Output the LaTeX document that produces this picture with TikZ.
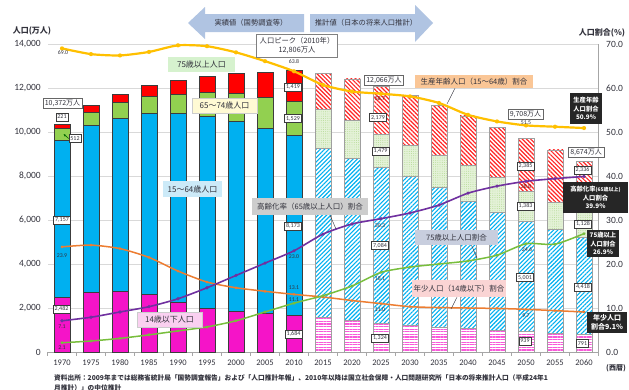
\documentclass[tikz,border=0pt]{standalone}
\usepackage{fontspec}
\setmainfont{Carlito}
\newfontfamily\jp{Noto Sans CJK JP}
\usetikzlibrary{patterns,patterns.meta,arrows.meta}

% series colours
\definecolor{txt}{RGB}{50,50,60}
\definecolor{gridc}{RGB}{217,217,217}
\definecolor{axisc}{RGB}{166,166,166}
\definecolor{barline}{RGB}{60,60,60}
\definecolor{cKid}{RGB}{245,20,200}
\definecolor{cWork}{RGB}{0,176,240}
\definecolor{cYoung}{RGB}{146,208,80}
\definecolor{cOld}{RGB}{255,0,0}
\definecolor{cYoungBg}{RGB}{228,242,216}
\definecolor{cYoungDot}{RGB}{175,215,140}
\definecolor{lGold}{RGB}{255,192,0}
\definecolor{lPurple}{RGB}{112,48,160}
\definecolor{lGreen}{RGB}{120,190,60}
\definecolor{lOrange}{RGB}{237,125,49}
\definecolor{hdr}{RGB}{176,196,226}
\definecolor{darkbg}{RGB}{38,38,38}
\definecolor{bgGreen}{RGB}{214,242,206}
\definecolor{bgYellow}{RGB}{255,250,212}
\definecolor{bgBlue}{RGB}{204,234,248}
\definecolor{bgGray}{RGB}{205,205,205}
\definecolor{bgSlate}{RGB}{200,206,222}
\definecolor{bgOrange}{RGB}{250,198,150}
\definecolor{bgPink}{RGB}{250,212,212}
\definecolor{bgLilac}{RGB}{250,208,240}

\tikzset{
  grid/.style={draw=gridc, line width=0.6pt},
  axisln/.style={draw=axisc, line width=0.6pt},
  bar/.style={draw=barline, line width=0.5pt},
  pbar/.style={draw=gray!75, line width=0.4pt},
  kidA/.style={bar, fill=cKid},
  workA/.style={bar, fill=cWork},
  youngA/.style={bar, fill=cYoung},
  oldA/.style={bar, fill=cOld},
  kidP/.style={pbar, preaction={fill=white}, pattern={Lines[angle=0,distance=2.6pt,line width=1.2pt]}, pattern color=cKid!70},
  workP/.style={pbar, preaction={fill=white}, pattern={Lines[angle=45,distance=3pt,line width=1.1pt]}, pattern color=cWork},
  youngP/.style={pbar, preaction={fill=cYoungBg}, pattern={Dots[distance=2.2pt,radius=0.45pt]}, pattern color=cYoungDot},
  oldP/.style={pbar, preaction={fill=white}, pattern={Lines[angle=-45,distance=3pt,line width=1.2pt]}, pattern color=cOld!85},
  ltick/.style={anchor=east, font=\fontsize{9.5}{10}\selectfont, text=txt, inner sep=0pt},
  rtick/.style={anchor=west, font=\fontsize{9.5}{10}\selectfont, text=txt, inner sep=0pt},
  yearlbl/.style={font=\fontsize{8.5}{9}\selectfont, text=txt, inner sep=0pt},
  valbox/.style={draw=barline, fill=white, line width=0.6pt, text=txt, font=\fontsize{6}{7}\selectfont, inner xsep=1.5pt, inner ysep=0pt, minimum height=8pt},
  totbox/.style={draw=gray!80!black, fill=white, line width=0.5pt, text=txt, font=\jp\fontsize{7}{8}\selectfont, inner xsep=2pt, inner ysep=0pt, minimum height=10pt},
  ptlbl/.style={text=txt, font=\fontsize{5.8}{6}\selectfont, inner sep=0pt},
  lgd/.style={text=txt, font=\jp\fontsize{7.5}{9}\selectfont, inner sep=0pt, align=center},
  darkbox/.style={fill=darkbg, text=white, font=\jp\bfseries\fontsize{6.3}{8.6}\selectfont, inner sep=0pt, align=center},
  leader/.style={draw=txt, line width=0.4pt},
  sline/.style={line width=1.6pt, line join=round, smooth, tension=0.4},
  hdrshape/.style={fill=hdr},
}

\begin{document}
\begin{tikzpicture}[x=1pt,y=-1pt]
\useasboundingbox (0,0) rectangle (629,389);
\fill[white] (0,0) rectangle (629,389);

% header arrows
\path[hdrshape] (188,23) -- (205,7) -- (205,14) -- (304,14) -- (304,32) -- (205,32) -- (205,39) -- cycle;
\path[hdrshape] (310,14) -- (415,14) -- (415,5) -- (433,23) -- (415,42) -- (415,32) -- (310,32) -- cycle;
\node[lgd, font=\jp\fontsize{7.3}{9}\selectfont] (hdrL) at (251,23) {実績値（国勢調査等）};
\node[lgd, font=\jp\fontsize{7.3}{9}\selectfont] (hdrR) at (366,23) {推計値（日本の将来人口推計）};

% axis titles
\node[lgd, font=\jp\bfseries\fontsize{8}{9}\selectfont] (ytitleL) at (32,31) {人口(万人)};
\node[lgd, font=\jp\bfseries\fontsize{8}{9}\selectfont] (ytitleR) at (602,33) {人口割合(\%)};

% gridlines and axes
\foreach \v in {1,...,7} \draw[grid] (48,{352-44*\v}) -- (598.5,{352-44*\v});
\draw[axisln] (598.5,44) -- (598.5,352);
\draw[axisln] (47.5,352) -- (598.5,352);
\foreach \k in {0,...,19} \draw[axisln] ({47.5+29*\k},352) -- ++(0,4);

% left tick labels
\foreach \v/\t in {0/0,1/{2,000},2/{4,000},3/{6,000},4/{8,000},5/{10,000},6/{12,000},7/{14,000}}
  \node[ltick] (yl\v) at (41,{352-44*\v}) {\t};
% right tick labels
\foreach \v/\t in {0/0.0,1/10.0,2/20.0,3/30.0,4/40.0,5/50.0,6/60.0,7/70.0}
  \node[rtick] (yr\v) at (606,{352-44*\v}) {\t};

% year labels
\foreach \i/\yr in {0/1970,1/1975,2/1980,3/1985,4/1990,5/1995,6/2000,7/2005,8/2010,9/2015,10/2020,11/2025,12/2030,13/2035,14/2040,15/2045,16/2050,17/2055,18/2060}
  \node[yearlbl] (yr\yr) at ({62+29*\i},363) {\yr};
\node[lgd, font=\jp\bfseries\fontsize{7}{8}\selectfont] (era) at (616,368) {(西暦)};

% stacked bars, census years
\foreach \i/\a/\b/\c/\d in {0/2482/7157/512/221,1/2722/7584/603/284,2/2751/7883/699/366,3/2603/8251/776/471,4/2249/8590/892/597,5/2001/8716/1109/717,6/1847/8622/1301/900,7/1752/8409/1407/1164,8/1684/8173/1529/1419}{
  \pgfmathsetmacro\xl{54+29*\i}
  \pgfmathsetmacro\xr{70+29*\i}
  \pgfmathsetmacro\ya{352-0.022*\a}
  \pgfmathsetmacro\yb{\ya-0.022*\b}
  \pgfmathsetmacro\yc{\yb-0.022*\c}
  \pgfmathsetmacro\yd{\yc-0.022*\d}
  \draw[kidA] (\xl,352) rectangle (\xr,\ya);
  \draw[workA] (\xl,\ya) rectangle (\xr,\yb);
  \draw[youngA] (\xl,\yb) rectangle (\xr,\yc);
  \draw[oldA] (\xl,\yc) rectangle (\xr,\yd);
}
% stacked bars, projected years
\foreach \i/\a/\b/\c/\d in {9/1583/7682/1749/1646,10/1457/7341/1733/1879,11/1324/7084/1479/2179,12/1204/6773/1407/2278,13/1129/6343/1495/2245,14/1073/5787/1645/2223,15/1012/5353/1600/2257,16/939/5001/1383/2385,17/861/4706/1225/2401,18/791/4418/1128/2336}{
  \pgfmathsetmacro\xl{54+29*\i}
  \pgfmathsetmacro\xr{70+29*\i}
  \pgfmathsetmacro\ya{352-0.022*\a}
  \pgfmathsetmacro\yb{\ya-0.022*\b}
  \pgfmathsetmacro\yc{\yb-0.022*\c}
  \pgfmathsetmacro\yd{\yc-0.022*\d}
  \draw[kidP] (\xl,352) rectangle (\xr,\ya);
  \draw[workP] (\xl,\ya) rectangle (\xr,\yb);
  \draw[youngP] (\xl,\yb) rectangle (\xr,\yc);
  \draw[oldP] (\xl,\yc) rectangle (\xr,\yd);
}

% ratio series: working-age, aged 65+, aged 75+, under 15
\foreach \i/\p in {0/69.0,1/67.7,2/67.4,3/68.2,4/69.7,5/69.5,6/68.1,7/66.1,8/63.8,9/60.7,10/59.2,11/58.7,12/58.1,13/56.6,14/53.9,15/52.4,16/51.5,17/51.2,18/50.9}
  \coordinate (w\i) at ({62+29*\i},{352-4.4*\p});
\foreach \i/\p in {0/7.1,1/7.9,2/9.1,3/10.3,4/12.1,5/14.6,6/17.4,7/20.2,8/23.0,9/26.8,10/29.1,11/30.3,12/31.6,13/33.4,14/36.1,15/37.7,16/38.8,17/39.4,18/39.9}
  \coordinate (a\i) at ({62+29*\i},{352-4.4*\p});
\foreach \i/\p in {0/2.1,1/2.5,2/3.1,3/3.9,4/4.8,5/5.7,6/7.1,7/9.1,8/11.1,9/12.8,10/15.0,11/18.1,12/19.3,13/20.0,14/20.7,15/22.0,16/24.6,17/24.5,18/26.9}
  \coordinate (s\i) at ({62+29*\i},{352-4.4*\p});
\foreach \i/\p in {0/23.9,1/24.3,2/23.5,3/21.5,4/18.4,5/15.9,6/14.6,7/13.8,8/13.1,9/12.5,10/11.7,11/11.0,12/10.3,13/10.1,14/10.0,15/9.9,16/9.7,17/9.4,18/9.1}
  \coordinate (k\i) at ({62+29*\i},{352-4.4*\p});

\draw[sline, lOrange, line width=1.5pt] plot coordinates {(k0) (k1) (k2) (k3) (k4) (k5) (k6) (k7) (k8) (k9) (k10) (k11) (k12) (k13) (k14) (k15) (k16) (k17) (k18)};
\draw[sline, lGreen, line width=1.5pt] plot coordinates {(s0) (s1) (s2) (s3) (s4) (s5) (s6) (s7) (s8) (s9) (s10) (s11) (s12) (s13) (s14) (s15) (s16) (s17) (s18)};
\draw[sline, lPurple, line width=1.6pt] plot coordinates {(a0) (a1) (a2) (a3) (a4) (a5) (a6) (a7) (a8) (a9) (a10) (a11) (a12) (a13) (a14) (a15) (a16) (a17) (a18)};
\draw[sline, lGold, line width=2.2pt] plot coordinates {(w0) (w1) (w2) (w3) (w4) (w5) (w6) (w7) (w8) (w9) (w10) (w11) (w12) (w13) (w14) (w15) (w16) (w17) (w18)};
\foreach \i in {0,...,18}{
  \fill[lOrange] (k\i) circle (1.5);
  \fill[lGreen] (s\i) circle (1.6);
  \fill[lPurple] (a\i) circle (1.8);
  \fill[lGold] (w\i) circle (2.1);
}

% value labels in the bars
\node[totbox] (tot1970) at (62.5,103) {10,372万人};
\node[valbox] (v221) at (62,117) {221};
\node[valbox] (v512) at (75,138.5) {512};
\coordinate (g1970) at (63.5,134);
\draw[-{Stealth[length=3pt]}, draw=green!40!black, line width=0.6pt] (v512.west) -- (g1970);
\node[valbox] (v7157) at (62,220) {7,157};
\node[valbox] (v2482) at (61.5,309) {2,482};
\node[valbox] (v1419) at (293,87) {1,419};
\node[valbox] (v1529) at (293,118.5) {1,529};
\node[valbox] (v8173) at (293,226) {8,173};
\node[valbox] (v1684) at (293.5,334) {1,684};
\node[totbox] (tot2025) at (384,80) {12,066万人};
\node[valbox] (v2179) at (378,117.5) {2,179};
\node[valbox] (v1479) at (380.5,151) {1,479};
\node[valbox] (v7084) at (380,245.5) {7,084};
\node[valbox] (v1324) at (380,338) {1,324};
\node[totbox] (tot2050) at (525.5,114) {9,708万人};
\node[valbox] (v2385) at (525.5,166) {2,385};
\node[valbox] (v1383) at (525.5,206) {1,383};
\node[valbox] (v5001) at (525,277.5) {5,001};
\node[valbox] (v939) at (525,341) {939};
\node[totbox] (tot2060) at (586,152) {8,674万人};
\node[valbox] (v2336) at (582.5,170) {2,336};
\node[valbox] (v1128) at (583,224) {1,128};
\node[valbox] (v4418) at (583,287) {4,418};
\node[valbox] (v791) at (582.5,343.5) {791};

% population peak
\node[draw=gray, fill=white, line width=0.5pt, text=txt, font=\jp\fontsize{7.3}{8.6}\selectfont, align=center, minimum width=81pt, minimum height=23pt, inner sep=0pt] (peak) at (297,45.5) {人口ピーク（2010年）\\12,806万人};

% ratio point labels
\node[ptlbl] (p690) at (63,53) {69.0};
\node[ptlbl] (p638) at (294,62) {63.8};
\node[ptlbl, text=red!40!black] (p587) at (380,99) {58.7};
\node[ptlbl] (p515) at (526,123) {51.5};
\node[ptlbl] (p239) at (62,256) {23.9};
\node[ptlbl] (p230) at (294,257) {23.0};
\node[ptlbl] (p131) at (294,288) {13.1};
\node[ptlbl] (p111) at (294,300) {11.1};
\node[ptlbl] (p71) at (62,327) {7.1};
\node[ptlbl] (p21) at (62,348) {2.1};
\node[ptlbl] (p303) at (380,226) {30.3};
\node[ptlbl, text=red!40!black] (p388) at (526,187) {38.8};
\node[ptlbl] (p181) at (380,279) {18.1};
\node[ptlbl] (p246) at (527,250) {24.6};
\node[ptlbl] (p110) at (380,310) {11.0};
\node[ptlbl] (p97) at (526,316) {9.7};

% series legends
\node[lgd, fill=bgGreen, minimum width=67pt, minimum height=15pt, font=\jp\fontsize{8}{9}\selectfont] (lg75) at (201.5,64.5) {75歳以上人口};
\node[lgd, fill=bgYellow, draw=gray!40, minimum width=65pt, minimum height=15pt, font=\jp\fontsize{8}{9}\selectfont] (lg6574) at (224.5,105.5) {65～74歳人口};
\node[lgd, fill=bgBlue, minimum width=59pt, minimum height=16pt, font=\jp\fontsize{8}{9}\selectfont] (lg1564) at (192.5,189) {15～64歳人口};
\node[lgd, fill=bgGray, minimum width=116pt, minimum height=17pt] (lgAged) at (310,206.5) {高齢化率（65歳以上人口）割合};
\node[lgd, fill=bgSlate, minimum width=83pt, minimum height=15pt] (lgOld) at (456.5,237.5) {75歳以上人口割合};
\node[lgd, fill=bgOrange, minimum width=118pt, minimum height=13pt] (lgWork) at (474,81.5) {生産年齢人口（15～64歳）割合};
\node[lgd, fill=bgPink, minimum width=94pt, minimum height=17pt] (lgKid) at (459,288.5) {年少人口（14歳以下）割合};
\node[lgd, fill=bgLilac, draw=gray!40, minimum width=65pt, minimum height=15pt, font=\jp\fontsize{8}{9}\selectfont] (lg014) at (169.5,319.5) {14歳以下人口};

% leader lines from legends to their series
\coordinate (tAged) at (336,229);
\coordinate (tOld) at (477,258);
\coordinate (tWork) at (447,104);
\coordinate (tKid) at (451,309);
\draw[leader] ([xshift=20pt]lgAged.south) -- (tAged);
\draw[leader] ([xshift=15pt]lgOld.south) -- (tOld);
\draw[leader] ([xshift=-19pt]lgWork.south) -- (tWork);
\draw[leader] ([xshift=-2pt]lgKid.south) -- (tKid);

% 2060 ratio callouts
\node[darkbox, minimum width=32pt, minimum height=31pt] (dWork) at (586,108.5) {生産年齢\\人口割合\\50.9\%};
\node[darkbox, minimum width=65pt, minimum height=31pt] (dAged) at (595.5,197.5) {高齢化率{\fontsize{5}{6}\selectfont(65歳以上)}\\人口割合\\39.9\%};
\node[darkbox, minimum width=32pt, minimum height=27pt] (dOld) at (603,243.5) {75歳以上\\人口割合\\26.9\%};
\node[darkbox, minimum width=40pt, minimum height=21pt, font=\jp\bfseries\fontsize{7}{9}\selectfont] (dKid) at (607,322.5) {年少人口\\割合9.1\%};

% source note (second line runs past the lower edge)
\node[anchor=west, text=txt, font=\jp\bfseries\fontsize{6.7}{9}\selectfont, inner sep=0pt, align=left] (src) at (54,378) {資料出所：2009年までは総務省統計局「国勢調査報告」および「人口推計年報」、2010年以降は国立社会保障・人口問題研究所「日本の将来推計人口（平成24年1};
\node[anchor=west, text=txt, font=\jp\bfseries\fontsize{6.7}{9}\selectfont, inner sep=0pt] (src2) at (54,388) {月推計）」の中位推計};
\end{tikzpicture}
\end{document}
